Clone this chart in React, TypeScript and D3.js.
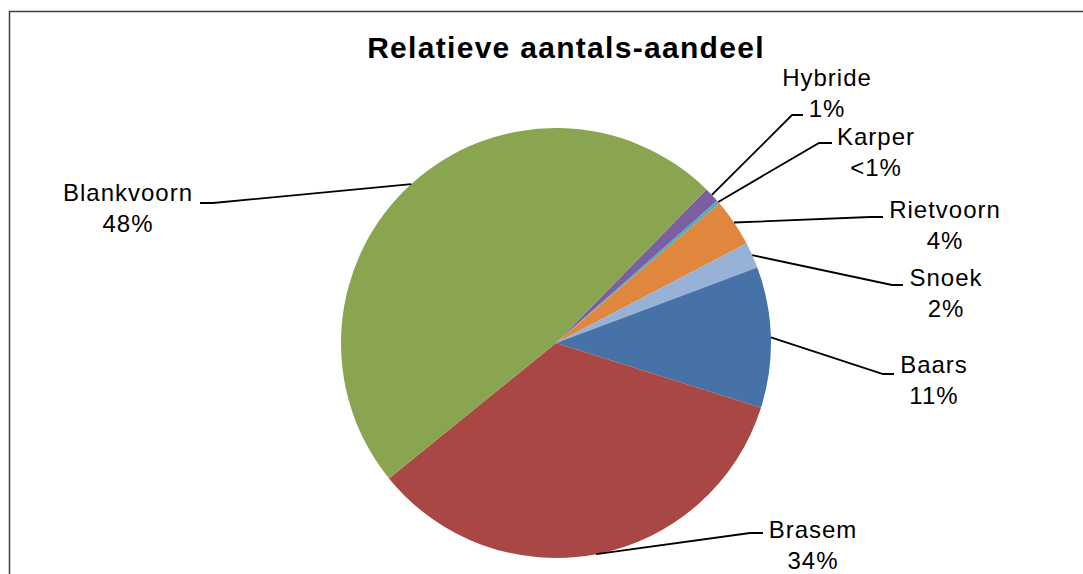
import * as d3 from "d3";

// slices in drawing order (clockwise), values in % of total count
const species = ["Hybride", "Karper", "Rietvoorn", "Snoek", "Baars", "Brasem", "Blankvoorn"];
const shares = [1.15, 0.25, 3.6, 1.95, 10.6, 34.3, 48.2];
const colors = ["#7B5FA0", "#4AACC6", "#E0873E", "#97B1D7", "#4672A7", "#A94745", "#8AA550"];

// hand-placed label layout (text centre, first baseline, elbow of the leader line)
const labelLayout = [
  { x: 827, y: 86, ex: [792, 803], ey: 115 },
  { x: 876, y: 145, ex: [819, 832], ey: 143 },
  { x: 945, y: 218, ex: [870, 883], ey: 217 },
  { x: 946, y: 286, ex: [892, 903], ey: 285 },
  { x: 934, y: 373, ex: [883, 894], ey: 374 },
  { x: 813, y: 538, ex: [750, 763], ey: 533 },
  { x: 128, y: 201, ex: [213, 200], ey: 203 },
];

const width = 1083;
const height = 574;
const cx = 556;
const cy = 343;
const radius = 215;
const startDeg = 44.4;

export default function App() {
  const total = d3.sum(shares);
  const rows = species.map((name, i) => ({ name, value: shares[i], color: colors[i], layout: labelLayout[i] }));

  const pie = d3
    .pie<(typeof rows)[number]>()
    .sort(null)
    .value((d) => d.value)
    .startAngle((startDeg * Math.PI) / 180)
    .endAngle((startDeg * Math.PI) / 180 + 2 * Math.PI);

  const arc = d3.arc<d3.PieArcDatum<(typeof rows)[number]>>().innerRadius(0).outerRadius(radius);
  const arcs = pie(rows);

  const pct = (v: number) => {
    const p = (v / total) * 100;
    return p < 1 ? "<1%" : `${Math.round(p)}%`;
  };

  return (
    <svg
      width={width}
      height={height}
      style={{ position: "absolute", left: 0, top: 0, background: "#fff" }}
      fontFamily="'Liberation Sans', Arial, sans-serif"
    >
      <rect x={9.5} y={11.5} width={1100} height={620} fill="#fff" stroke="#3f3f3f" strokeWidth={1.5} />
      <text x={566} y={58} textAnchor="middle" fontSize={30} fontWeight="bold" letterSpacing={1.3} fill="#000">
        Relatieve aantals-aandeel
      </text>

      <g transform={`translate(${cx},${cy})`}>
        {arcs.map((a) => (
          <path key={a.data.name} d={arc(a) ?? ""} fill={a.data.color} />
        ))}
      </g>

      {arcs.map((a) => {
        const mid = (a.startAngle + a.endAngle) / 2;
        const px = cx + radius * Math.sin(mid);
        const py = cy - radius * Math.cos(mid);
        const { x, y, ex, ey } = a.data.layout;
        return (
          <g key={`lbl-${a.data.name}`}>
            <polyline
              points={`${px},${py} ${ex[0]},${ey} ${ex[1]},${ey}`}
              fill="none"
              stroke="#000"
              strokeWidth={1.8}
            />
            <text x={x} y={y} textAnchor="middle" fontSize={24} letterSpacing={1} fill="#000">
              {a.data.name}
            </text>
            <text x={x} y={y + 31} textAnchor="middle" fontSize={24} letterSpacing={1} fill="#000">
              {pct(a.data.value)}
            </text>
          </g>
        );
      })}
    </svg>
  );
}
